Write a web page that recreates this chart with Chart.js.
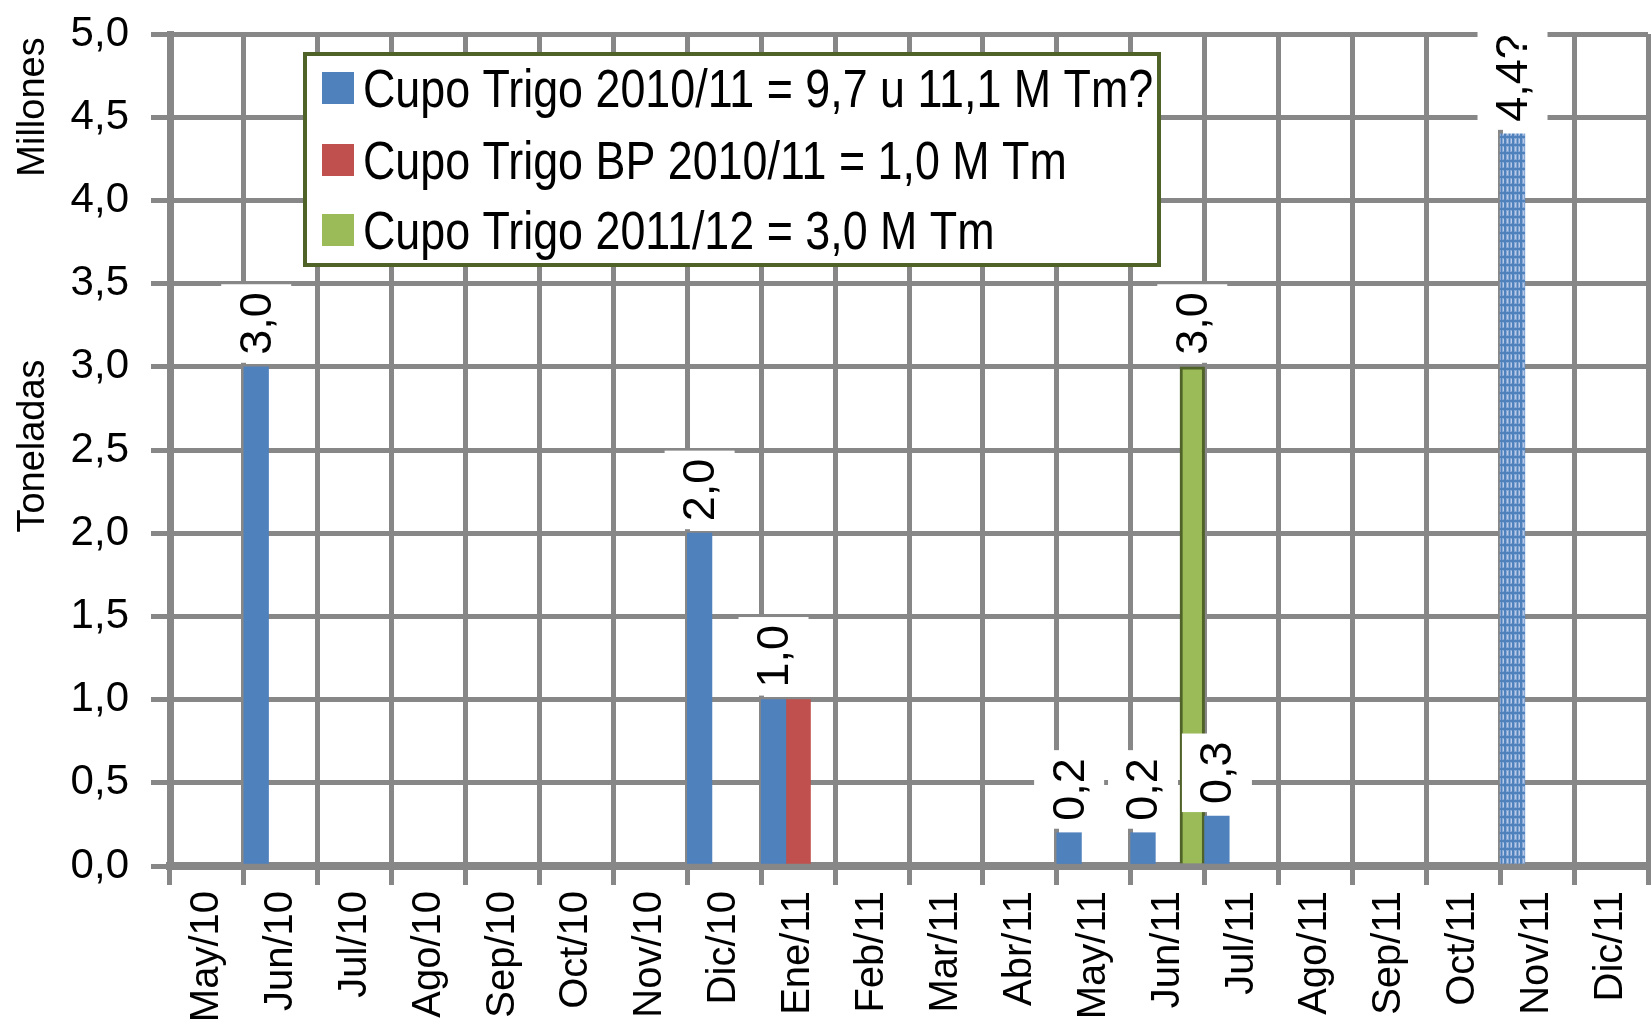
<!DOCTYPE html>
<html>
<head>
<meta charset="utf-8">
<script src="https://cdn.jsdelivr.net/npm/chart.js@4.4.1/dist/chart.umd.min.js"></script>
<style>
html,body{margin:0;padding:0;background:#ffffff;}
#wrap{width:1652px;height:1024px;position:relative;}
</style>
</head>
<body>
<div id="wrap"><canvas id="c" width="1652" height="1024"></canvas></div>
<script>
// ---------- data ----------
const categories = ['May/10','Jun/10','Jul/10','Ago/10','Sep/10','Oct/10','Nov/10','Dic/10','Ene/11','Feb/11','Mar/11','Abr/11','May/11','Jun/11','Jul/11','Ago/11','Sep/11','Oct/11','Nov/11','Dic/11'];
const seriesNames = ['Cupo Trigo 2010/11 = 9,7 u 11,1 M Tm?','Cupo Trigo BP 2010/11 = 1,0 M Tm','Cupo Trigo 2011/12 = 3,0 M Tm'];
const cupoTrigo1011   = [null,3.0,null,null,null,null,null,2.0,1.0,null,null,null,0.2,0.2,0.3,null,null,null,4.4,null];
const cupoTrigo1011Estimated = [false,false,false,false,false,false,false,false,false,false,false,false,false,false,false,false,false,false,true,false];
const cupoTrigoBP1011 = [null,null,null,null,null,null,null,null,1.0,null,null,null,null,null,null,null,null,null,null,null];
const cupoTrigo1112   = [null,null,null,null,null,null,null,null,null,null,null,null,null,3.0,null,null,null,null,null,null];
const yMin = 0, yMax = 5, yStep = 0.5;
const yTitles = ['Millones','Toneladas'];

// ---------- styles ----------
const BLUE = '#4F81BD', RED = '#C0504D', GREEN = '#9BBB59', OLIVE = '#4F6228', GRID = '#878787';
const SANS = '"Liberation Sans", Arial, sans-serif';

function hasFont(name){
  const c = document.createElement('canvas').getContext('2d');
  c.font = '40px monospace';
  const a = c.measureText('Cupo Trigo 2010/11').width;
  c.font = '40px "' + name + '", monospace';
  return Math.abs(c.measureText('Cupo Trigo 2010/11').width - a) > 0.5;
}
const NARROW_OK = hasFont('Liberation Sans Narrow');

function makePattern(){
  const c = document.createElement('canvas');
  c.width = 8; c.height = 8;
  const g = c.getContext('2d');
  g.fillStyle = '#86A6D4'; g.fillRect(0,0,8,8);
  g.fillStyle = BLUE;
  g.fillRect(0,0,8,2);
  g.fillRect(0,0,2,8);
  g.fillRect(5,0,1,8);
  g.fillStyle = '#B7CBE8';
  g.fillRect(3,3,1,4);
  g.fillRect(7,3,1,4);
  return document.getElementById('c').getContext('2d').createPattern(c,'repeat');
}
const estPattern = makePattern();

const fmt = v => v.toFixed(1).replace('.', ',');

// ---------- plugins ----------
const valueLabels = {
  id: 'valueLabels',
  afterDatasetsDraw(chart){
    const ctx = chart.ctx;
    chart.data.datasets.forEach((ds, di) => {
      if (!ds.showValues) return;
      const meta = chart.getDatasetMeta(di);
      meta.data.forEach((bar, i) => {
        const v = ds.data[i];
        if (v === null || v === undefined) return;
        let txt = fmt(v);
        if (ds.estimated && ds.estimated[i]) txt += '?';
        ctx.save();
        ctx.font = '45px ' + SANS;
        const tw = ctx.measureText(txt).width;
        const boxLen = tw + 16, boxThick = 70;
        const cx = bar.x, bottom = bar.y - 4;
        ctx.fillStyle = '#ffffff';
        ctx.fillRect(cx - boxThick/2, bottom - boxLen, boxThick, boxLen);
        ctx.translate(cx + 2, bottom - boxLen/2);
        ctx.rotate(-Math.PI/2);
        ctx.fillStyle = '#000000';
        ctx.textAlign = 'center';
        ctx.textBaseline = 'middle';
        ctx.fillText(txt, 0, 0);
        ctx.restore();
      });
    });
  }
};

const boxLegend = {
  id: 'boxLegend',
  afterDraw(chart){
    const ctx = chart.ctx;
    const L = 305, T = 54, W = 854, H = 211;
    ctx.save();
    ctx.fillStyle = '#ffffff';
    ctx.fillRect(L, T, W, H);
    ctx.strokeStyle = OLIVE;
    ctx.lineWidth = 4;
    ctx.strokeRect(L, T, W, H);
    const rows = [88, 160, 230];
    chart.data.datasets.forEach((ds, i) => {
      const cy = rows[i];
      ctx.fillStyle = ds.legendColor;
      ctx.fillRect(322, cy - 16, 32, 32);
      ctx.fillStyle = '#000000';
      ctx.textBaseline = 'alphabetic';
      ctx.textAlign = 'left';
      if (NARROW_OK) {
        ctx.font = '54px "Liberation Sans Narrow", ' + SANS;
        ctx.fillText(ds.label, 363, cy + 19);
      } else {
        ctx.save();
        ctx.translate(363, cy + 19);
        ctx.scale(0.83, 1);
        ctx.font = '54px ' + SANS;
        ctx.fillText(ds.label, 0, 0);
        ctx.restore();
      }
    });
    ctx.restore();
  }
};

const yTitlePlugin = {
  id: 'yTitlePlugin',
  afterDraw(chart){
    const ctx = chart.ctx;
    const pos = [107, 446];
    ctx.save();
    ctx.font = '38px ' + SANS;
    ctx.fillStyle = '#000000';
    ctx.textAlign = 'center';
    ctx.textBaseline = 'middle';
    yTitles.forEach((t, i) => {
      ctx.save();
      ctx.translate(34, pos[i]);
      ctx.rotate(-Math.PI/2);
      ctx.fillText(t, 0, 0);
      ctx.restore();
    });
    ctx.restore();
  }
};

// ---------- chart ----------
new Chart(document.getElementById('c'), {
  type: 'bar',
  data: {
    labels: categories,
    datasets: [
      {
        label: seriesNames[0],
        data: cupoTrigo1011,
        estimated: cupoTrigo1011Estimated,
        showValues: true,
        legendColor: BLUE,
        backgroundColor: ctx => (cupoTrigo1011Estimated[ctx.dataIndex] ? estPattern : BLUE),
        borderWidth: 0
      },
      {
        label: seriesNames[1],
        data: cupoTrigoBP1011,
        showValues: false,
        legendColor: RED,
        backgroundColor: RED,
        borderWidth: 0
      },
      {
        label: seriesNames[2],
        data: cupoTrigo1112,
        showValues: true,
        legendColor: GREEN,
        backgroundColor: GREEN,
        borderColor: OLIVE,
        borderWidth: 3,
        borderSkipped: 'bottom'
      }
    ]
  },
  options: {
    responsive: false,
    animation: false,
    devicePixelRatio: 1,
    layout: { padding: { top: 34, right: 4, left: 0, bottom: 0 } },
    datasets: { bar: { barPercentage: 1, categoryPercentage: 1, grouped: true } },
    plugins: {
      legend: { display: false },
      tooltip: { enabled: false },
      title: { display: false }
    },
    scales: {
      x: {
        offset: true,
        grid: { offset: true, color: GRID, lineWidth: 5, tickLength: 19, drawOnChartArea: true },
        border: { display: true, color: GRID, width: 8 },
        ticks: {
          autoSkip: false,
          minRotation: 90,
          maxRotation: 90,
          padding: 6,
          color: '#000000',
          font: { family: SANS, size: 40 }
        },
        afterFit: s => { s.height = 158; s.paddingLeft = 0; s.paddingRight = 0; }
      },
      y: {
        min: yMin,
        max: yMax,
        grid: { color: GRID, lineWidth: 5, tickLength: 19 },
        border: { display: true, color: GRID, width: 7 },
        ticks: {
          stepSize: yStep,
          padding: 22,
          color: '#000000',
          font: { family: SANS, size: 42 },
          callback: v => fmt(v)
        },
        afterFit: s => { s.width = 170; s.paddingTop = 0; s.paddingBottom = 0; }
      }
    }
  },
  plugins: [valueLabels, boxLegend, yTitlePlugin]
});
</script>
</body>
</html>
